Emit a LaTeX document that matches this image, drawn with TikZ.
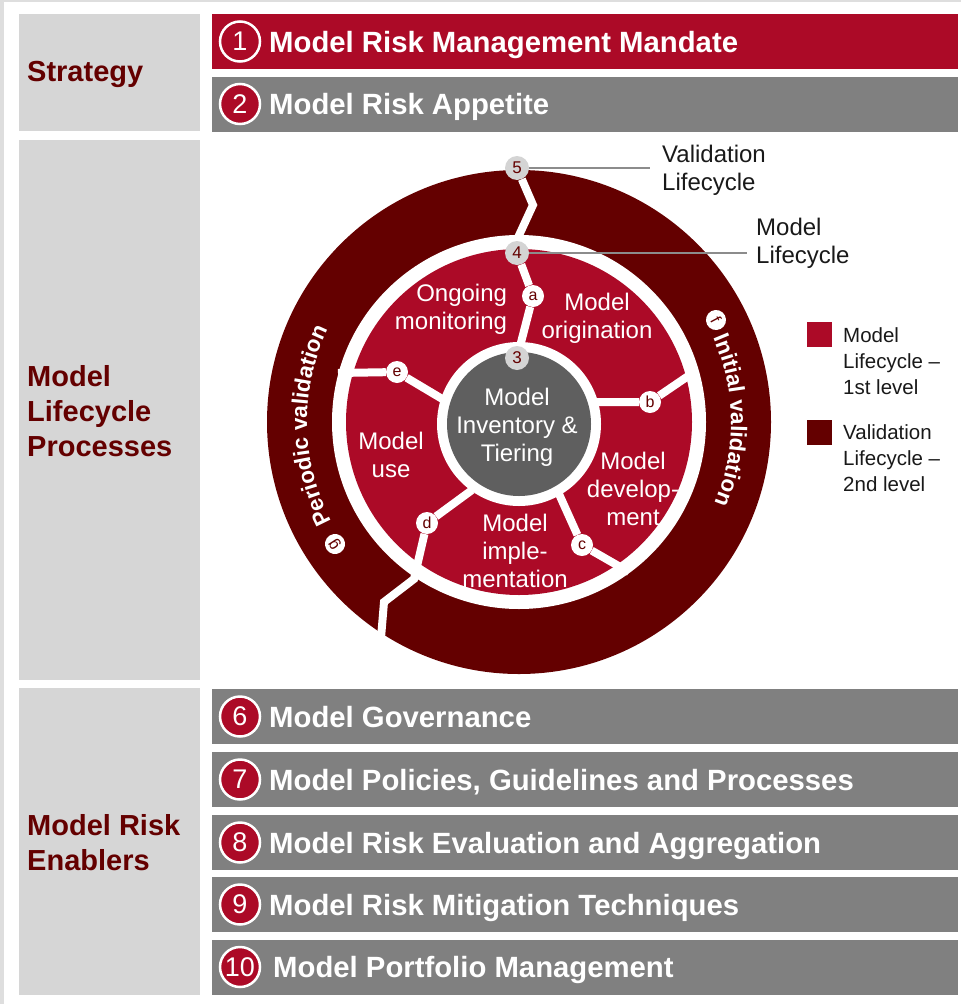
\documentclass[tikz,border=0pt]{standalone}
\usepackage{fontspec}
\setmainfont{Liberation Sans}
\usetikzlibrary{shapes,decorations.text}
\definecolor{mred}{RGB}{172,10,39}
\definecolor{dred}{RGB}{100,0,0}
\definecolor{bargray}{RGB}{128,128,128}
\definecolor{diskgray}{RGB}{95,95,95}
\definecolor{panelgray}{RGB}{214,214,214}
\definecolor{framegray}{RGB}{222,222,222}
\definecolor{numgray}{RGB}{212,212,212}
\definecolor{leadgray}{RGB}{140,140,140}
\definecolor{ink}{RGB}{25,25,25}
\pgfdeclarelayer{bg}
\pgfsetlayers{bg,main}
\tikzset{
  sidelabel/.style={anchor=west,align=left,inner sep=0,text=dred,font=\fontsize{29}{35}\selectfont\bfseries},
  bar/.style={anchor=west,minimum width=746,minimum height=55,inner sep=0,draw=none},
  badge/.style={shape=circle,draw=white,line width=2.5,minimum size=40,inner sep=0,text=white,font=\fontsize{27}{27}\selectfont},
  bartext/.style={anchor=base west,inner sep=0,text=white,font=\fontsize{29.3}{29.3}\selectfont\bfseries},
  numdot/.style={shape=circle,fill=numgray,minimum size=24,inner sep=0,text=dred,font=\fontsize{17}{17}\selectfont},
  letdot/.style={shape=circle,fill=white,minimum size=22,inner sep=0,text=dred,font=\fontsize{16}{16}\selectfont},
  wline/.style={draw=white,line width=8},
  seclabel/.style={align=center,inner sep=0,text=white,font=\fontsize{24}{28}\selectfont},
  sidenote/.style={anchor=west,align=left,inner sep=0,text=ink,font=\fontsize{24}{28}\selectfont},
  legtext/.style={anchor=west,align=left,inner sep=0,text=ink,font=\fontsize{20.5}{26}\selectfont},
  legbox/.style={minimum size=25,inner sep=0,draw=none},
  lead/.style={draw=leadgray,line width=1.5}
}
\begin{document}
\begin{tikzpicture}[x=1pt,y=1pt]
\useasboundingbox (0,0) rectangle (961,-1004);
\fill[framegray] (0,0) rectangle (4,-1004);
\fill[framegray] (0,0) rectangle (961,-1.5);
\fill[panelgray] (19,-14) rectangle (200,-131);
\fill[panelgray] (19,-140) rectangle (200,-680);
\fill[panelgray] (19,-688) rectangle (200,-995);
\node[sidelabel] (strat) at (27,-74) {Strategy};
\node[sidelabel] (proc) at (27,-411) {Model\\Lifecycle\\Processes};
\node[sidelabel] (enab) at (27,-843) {Model Risk\\Enablers};

\node[bar,fill=mred] (bar1) at (212,-41.5) {};
\node[badge,fill=mred] (c1) at (240,-41.5) {1};
\node[bartext] (t1) at (269,-52) {Model Risk Management Mandate};
\node[bar,fill=bargray] (bar2) at (212,-104) {};
\node[badge,fill=mred] (c2) at (240,-104) {2};
\node[bartext] (t2) at (269,-114.5) {Model Risk Appetite};
\node[bar,fill=bargray] (bar6) at (212,-716.5) {};
\node[badge,fill=mred] (c6) at (240,-716.5) {6};
\node[bartext] (t6) at (269,-727) {Model Governance};
\node[bar,fill=bargray] (bar7) at (212,-779.5) {};
\node[badge,fill=mred] (c7) at (240,-779.5) {7};
\node[bartext] (t7) at (269,-790) {Model Policies, Guidelines and Processes};
\node[bar,fill=bargray] (bar8) at (212,-842.5) {};
\node[badge,fill=mred] (c8) at (240,-842.5) {8};
\node[bartext] (t8) at (269,-853) {Model Risk Evaluation and Aggregation};
\node[bar,fill=bargray] (bar9) at (212,-904.5) {};
\node[badge,fill=mred] (c9) at (240,-904.5) {9};
\node[bartext] (t9) at (269,-915) {Model Risk Mitigation Techniques};
\node[bar,fill=bargray] (bar10) at (212,-967) {};
\node[badge,fill=mred] (c10) at (240,-967) {10};
\node[bartext] (t10) at (273,-977.5) {Model Portfolio Management};

\begin{scope}[shift={(519,-422)}]
\begin{pgfonlayer}{bg}
\fill[dred] (0,0) circle[radius=252];
\fill[white] (0,0) circle[radius=187];
\fill[mred] (0,0) circle[radius=173];
\fill[white] (0,-2) circle[radius=82];
\fill[diskgray] (0,-2) circle[radius=72];
\end{pgfonlayer}
\node[numdot] (n3) at (-2,64) {3};
\node[numdot] (n4) at (-2,169) {4};
\node[numdot] (n5) at (-2,254) {5};
\node[letdot] (a) at (14,126) {a};
\node[letdot] (b) at (131,20) {b};
\node[letdot] (c) at (63,-123) {c};
\node[letdot] (d) at (-92,-101) {d};
\node[letdot] (e) at (-122,50) {e};
\node[letdot,minimum size=20,rotate=-62] (f) at (197,102) {f};
\node[letdot,minimum size=20,rotate=123] (g) at (-184,-122) {g};
\coordinate (k5) at (14,217);
\coordinate (k5e) at (-4,178);
\coordinate (b0) at (72,20);
\coordinate (b1) at (178,52);
\coordinate (c0) at (40,-72);
\coordinate (c1) at (110,-150);
\coordinate (d0) at (-47,-68);
\coordinate (d1) at (-105,-157);
\coordinate (d2) at (-135,-180);
\coordinate (d3) at (-139,-228);
\coordinate (e0) at (-75,22);
\coordinate (e1) at (-181,49);
\begin{pgfonlayer}{bg}
\draw[wline] (n3) -- (a) -- (n4);
\draw[wline] (n5) -- (k5) -- (k5e);
\draw[wline] (b0) -- (b) -- (b1);
\draw[wline] (c0) -- (c) -- (c1);
\draw[wline] (d0) -- (d) -- (d1) -- (d2) -- (d3);
\draw[wline] (e0) -- (e) -- (e1);
\end{pgfonlayer}
\node[seclabel,align=right] (mon) at (-68,113) {Ongoing\\monitoring};
\node[seclabel] (orig) at (78,104) {Model\\origination};
\node[seclabel] (dev) at (114,-67) {Model\\develop-\\ment};
\node[seclabel] (impl) at (-4,-129) {Model\\imple-\\mentation};
\node[seclabel] (use) at (-128,-33) {Model\\use};
\node[seclabel] (inv) at (-2,-5) {Model\\Inventory \&\\Tiering};
\path[decorate,decoration={text along path,text color=white,text align=center,
  text={|\fontsize{22.5}{25}\selectfont\bfseries|Initial validation}}]
  (25:212) arc[start angle=25,end angle=-24,radius=212];
\path[decorate,decoration={text along path,text color=white,text align=center,
  text={|\fontsize{22.5}{25}\selectfont\bfseries|Periodic validation}}]
  (209:212) arc[start angle=209,end angle=153,radius=212];
\end{scope}

\node[sidenote] (vlab) at (662,-170) {Validation\\Lifecycle};
\node[sidenote] (mlab) at (756,-243.5) {Model\\Lifecycle};
\draw[lead] (n5.east) -- ([xshift=-12]n5.east -| vlab.west);
\draw[lead] (n4.east) -- ([xshift=-9]n4.east -| mlab.west);

\node[legbox,fill=mred] (l1) at (819.5,-334.5) {};
\node[legtext] (lt1) at (843,-361) {Model\\Lifecycle --\\1st level};
\node[legbox,fill=dred] (l2) at (819.5,-432.5) {};
\node[legtext] (lt2) at (843,-458) {Validation\\Lifecycle --\\2nd level};
\end{tikzpicture}
\end{document}
